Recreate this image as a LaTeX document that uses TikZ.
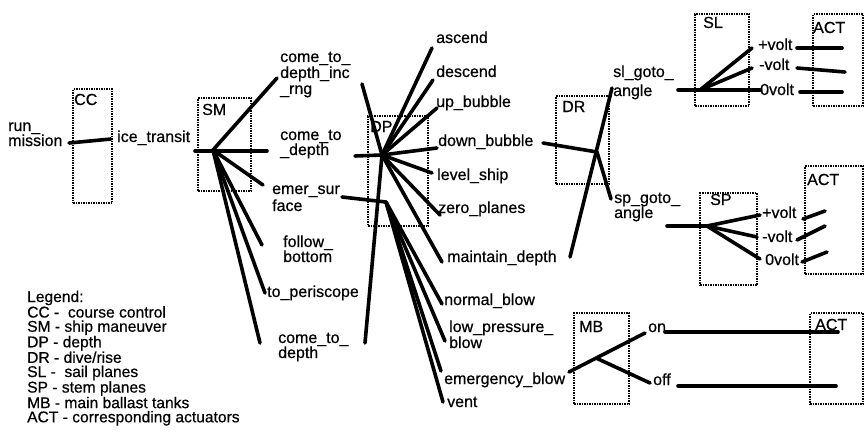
\documentclass[tikz,border=0pt]{standalone}
\usepackage{fontspec}
\setmainfont{Liberation Sans}
\newfontfamily\heavyfam{Liberation Sans}[FakeBold=0.6]
\newcommand\lblfont{\heavyfam\fontsize{16}{16}\selectfont}
\newcommand\legfont{\heavyfam\fontsize{15.6}{14.2}\selectfont}
\tikzset{
  blk/.style={draw=black, line width=2.3pt, dash pattern=on 1.4pt off 1.1pt, inner sep=0pt, anchor=north west},
  wire/.style={line width=3.6pt, line cap=round},
  lbl/.style={anchor=base west, inner sep=0pt, font=\lblfont},
}
\begin{document}
\begin{tikzpicture}[x=1pt,y=-1pt]
\useasboundingbox (0,0) rectangle (864,444);
% ---------- boxes ----------
\node[blk, minimum width=39pt, minimum height=114pt] (ccbox) at (72,88) {};
\node[blk, minimum width=53pt, minimum height=93pt] (smbox) at (197,97) {};
\node[blk, minimum width=60pt, minimum height=110pt] (dpbox) at (367,115) {};
\node[blk, minimum width=53pt, minimum height=88pt] (drbox) at (555,95) {};
\node[blk, minimum width=54pt, minimum height=92pt] (slbox) at (694,13) {};
\node[blk, minimum width=50pt, minimum height=92pt] (actA) at (812,13) {};
\node[blk, minimum width=57pt, minimum height=92pt] (spbox) at (699,192) {};
\node[blk, minimum width=58pt, minimum height=108pt] (actB) at (804,165) {};
\node[blk, minimum width=55pt, minimum height=91pt] (mbbox) at (573,312) {};
\node[blk, minimum width=53pt, minimum height=91pt] (actC) at (809,312) {};
% ---------- labels ----------
\node[lbl] (tRun) at (8,131) {\baselineskip=15pt\vtop{\hbox{run\_}\hbox{mission}}};
\node[lbl] (tIce) at (117,142) {ice\_transit};
\node[lbl] (tCC) at (74,105) {CC};
\node[lbl] (tSM) at (202,115) {SM};
\node[lbl] (tCtdi) at (280,62) {\baselineskip=16pt\vtop{\hbox{come\_to\_}\hbox{depth\_inc}\hbox{\_rng}}};
\node[lbl] (tCtd) at (280,140) {\baselineskip=15pt\vtop{\hbox{come\_to}\hbox{\_depth}}};
\node[lbl] (tEmer) at (272,194) {\baselineskip=17pt\vtop{\hbox{emer\_sur}\hbox{face}}};
\node[lbl] (tFol) at (283,247) {\baselineskip=15pt\vtop{\hbox{follow\_}\hbox{bottom}}};
\node[lbl] (tPer) at (267,297) {to\_periscope};
\node[lbl] (tCtdB) at (278,343) {\baselineskip=15pt\vtop{\hbox{come\_to\_}\hbox{depth}}};
\node[lbl] (tDP) at (370,132) {DP};
\node[lbl] (tAsc) at (436,43) {ascend};
\node[lbl] (tDes) at (436,77) {descend};
\node[lbl] (tUp) at (436,107) {up\_bubble};
\node[lbl] (tDown) at (438,146) {down\_bubble};
\node[lbl] (tLev) at (437,180) {level\_ship};
\node[lbl] (tZero) at (438,213) {zero\_planes};
\node[lbl] (tMaint) at (447,262) {maintain\_depth};
\node[lbl] (tNorm) at (444,305) {normal\_blow};
\node[lbl] (tLow) at (449,332) {\baselineskip=16pt\vtop{\hbox{low\_pressure\_}\hbox{blow}}};
\node[lbl] (tEmg) at (444,384) {emergency\_blow};
\node[lbl] (tVent) at (447,407) {vent};
\node[lbl] (tDR) at (562,112) {DR};
\node[lbl] (tSlg) at (613,77) {\baselineskip=19pt\vtop{\hbox{sl\_goto\_}\hbox{angle}}};
\node[lbl] (tSpg) at (614,203) {\baselineskip=15pt\vtop{\hbox{sp\_goto\_}\hbox{angle}}};
\node[lbl] (tSL) at (703,28) {SL};
\node[lbl] (tActA) at (813,33) {ACT};
\node[lbl] (tSlP) at (758,50) {+volt};
\node[lbl] (tSlM) at (759,70) {-volt};
\node[lbl] (tSlZ) at (760,95) {0volt};
\node[lbl] (tActB) at (807,185) {ACT};
\node[lbl] (tSP) at (710,205) {SP};
\node[lbl] (tSpP) at (762,218) {+volt};
\node[lbl] (tSpM) at (762,242) {-volt};
\node[lbl] (tSpZ) at (765,265) {0volt};
\node[lbl] (tMB) at (579,332) {MB};
\node[lbl] (tOn) at (648,332) {on};
\node[lbl] (tOff) at (653,385) {off};
\node[lbl] (tActC) at (815,330) {ACT};
\node[lbl, font=\legfont] (tLegend) at (27,302) {\vtop{\hbox{Legend:}\hbox{CC -\ \ course control}\hbox{SM - ship maneuver}\hbox{DP - depth}\hbox{DR - dive/rise}\hbox{SL -\ \ sail planes}\hbox{SP - stem planes}\hbox{MB - main ballast tanks}\hbox{ACT - corresponding actuators}}};
% ---------- connector points ----------
\coordinate (rmE) at (69,143);
\coordinate (itW) at (111,139);
\coordinate (smL) at (195,151);
\coordinate (smR) at (267,151);
\coordinate (smH) at (213,150);
\coordinate (smA) at (277,78);
\coordinate (smB) at (263,185);
\coordinate (smC) at (262,245);
\coordinate (smD) at (265,293);
\coordinate (smE) at (260,343);
\coordinate (dpH) at (382,155);
\coordinate (dpL) at (355,156);
\coordinate (dpI) at (362,84);
\coordinate (dpAsc) at (432,48);
\coordinate (dpDes) at (433,80);
\coordinate (dpUp) at (437,108);
\coordinate (dpDown) at (437,148);
\coordinate (dpLev) at (432,173);
\coordinate (dpZero) at (440,215);
\coordinate (dpMaint) at (442,262);
\coordinate (dpCtd) at (365,343);
\coordinate (emW) at (342,197);
\coordinate (emH) at (386,202);
\coordinate (emN) at (442,304);
\coordinate (emLow) at (445,341);
\coordinate (emEm) at (441,371);
\coordinate (emV) at (443,402);
\coordinate (drW) at (543,143);
\coordinate (drH) at (597,152);
\coordinate (drSl) at (612,88);
\coordinate (drMd) at (570,257);
\coordinate (drSp) at (611,199);
\coordinate (slW) at (678,90);
\coordinate (slH) at (700,90);
\coordinate (slZ) at (760,90);
\coordinate (slP) at (752,48);
\coordinate (slM) at (752,68);
\coordinate (aAp1) at (797,48);  \coordinate (aAp2) at (842,48);
\coordinate (aAm1) at (797,68);  \coordinate (aAm2) at (845,72);
\coordinate (aAz1) at (800,92);  \coordinate (aAz2) at (842,92);
\coordinate (spW) at (667,226);
\coordinate (spH) at (707,226);
\coordinate (spP) at (760,215);
\coordinate (spM) at (757,237);
\coordinate (spZ) at (760,259);
\coordinate (aBp1) at (803,219); \coordinate (aBp2) at (825,211);
\coordinate (aBm1) at (797,240); \coordinate (aBm2) at (825,226);
\coordinate (aBz1) at (802,262); \coordinate (aBz2) at (827,252);
\coordinate (mbW) at (569,372);
\coordinate (mbH) at (596,358);
\coordinate (mbOn) at (645,333);
\coordinate (mbOff) at (650,383);
\coordinate (onW) at (665,332);  \coordinate (onE) at (838,332);
\coordinate (offW) at (678,386); \coordinate (offE) at (836,386);
% ---------- connectors ----------
\draw[wire] (rmE) -- (itW);
\draw[wire] (smL) -- (smR);
\foreach \t in {smA,smB,smC,smD,smE} \draw[wire] (smH) -- (\t);
\draw[wire] (dpL) -- (dpH);
\draw[wire] (dpI) -- (dpH);
\foreach \t in {dpAsc,dpDes,dpUp,dpDown,dpLev,dpZero,dpMaint,dpCtd} \draw[wire] (dpH) -- (\t);
\draw[wire] (emW) -- (emH);
\foreach \t in {emN,emLow,emEm,emV} \draw[wire] (emH) -- (\t);
\draw[wire] (drW) -- (drH);
\draw[wire] (drSl) -- (drMd);
\draw[wire] (drH) -- (drSp);
\draw[wire] (slW) -- (slZ);
\draw[wire] (slH) -- (slP);
\draw[wire] (slH) -- (slM);
\draw[wire] (aAp1) -- (aAp2);
\draw[wire] (aAm1) -- (aAm2);
\draw[wire] (aAz1) -- (aAz2);
\draw[wire] (spW) -- (spH);
\foreach \t in {spP,spM,spZ} \draw[wire] (spH) -- (\t);
\draw[wire] (aBp1) -- (aBp2);
\draw[wire] (aBm1) -- (aBm2);
\draw[wire] (aBz1) -- (aBz2);
\draw[wire] (mbW) -- (mbOn);
\draw[wire] (mbH) -- (mbOff);
\draw[wire] (onW) -- (onE);
\draw[wire] (offW) -- (offE);
\end{tikzpicture}
\end{document}
